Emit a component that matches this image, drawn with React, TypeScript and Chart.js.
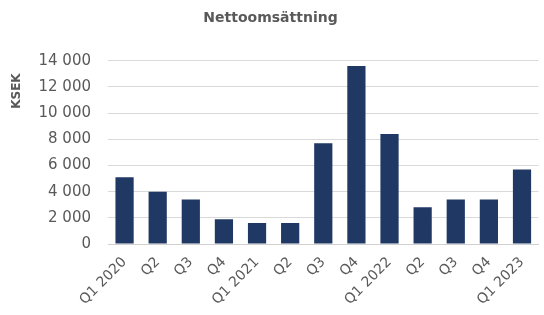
import React, { useEffect, useRef } from "react";
import { Chart, registerables } from "chart.js";

Chart.register(...registerables);

const categories = ["Q1 2020", "Q2", "Q3", "Q4", "Q1 2021", "Q2", "Q3", "Q4", "Q1 2022", "Q2", "Q3", "Q4", "Q1 2023"];
const nettoomsattning = [5100, 4000, 3400, 1900, 1600, 1600, 7700, 13600, 8400, 2800, 3400, 3400, 5700];
const yTicks = [0, 2000, 4000, 6000, 8000, 10000, 12000, 14000];

const FONT = "'DejaVu Sans', sans-serif";
const GRAY = "#595959";

function fmt(v: number): string {
  const s = Math.round(v).toString();
  return s.replace(/\B(?=(\d{3})+(?!\d))/g, " ");
}

export default function App() {
  const ref = useRef<HTMLCanvasElement>(null);
  useEffect(() => {
    if (!ref.current) return;
    const chart = new Chart(ref.current, {
      type: "bar",
      data: {
        labels: categories,
        datasets: [
          {
            label: "Nettoomsättning",
            data: nettoomsattning,
            backgroundColor: "#1f3864",
            categoryPercentage: 1,
            barPercentage: 0.55,
          },
        ],
      },
      options: {
        responsive: false,
        animation: false,
        layout: { padding: { left: 0, right: 3, top: 0, bottom: 0 } },
        plugins: {
          legend: { display: false },
          tooltip: { enabled: false },
          title: {
            display: true,
            text: "Nettoomsättning",
            color: GRAY,
            font: { family: FONT, size: 14, weight: "bold" },
            padding: { top: 10, bottom: 34 },
          },
        },
        scales: {
          x: {
            grid: { display: false, drawTicks: false },
            border: { display: true, color: "#d0d0d0", width: 1 },
            ticks: {
              color: GRAY,
              font: { family: FONT, size: 14 },
              maxRotation: 45,
              minRotation: 45,
              autoSkip: false,
              padding: 10,
            },
            afterFit: (scale: any) => {
              scale.height = 71;
            },
          },
          y: {
            min: 0,
            max: 14000,
            afterBuildTicks: (scale: any) => {
              scale.ticks = yTicks.map((v) => ({ value: v }));
            },
            afterFit: (scale: any) => {
              scale.width = 108;
            },
            grid: { color: "#d9d9d9", drawTicks: false },
            border: { display: false },
            ticks: {
              color: GRAY,
              font: { family: FONT, size: 15 },
              padding: 17,
              callback: (v: any) => fmt(Number(v)),
            },
            title: {
              display: true,
              text: "KSEK   ",
              align: "end",
              color: GRAY,
              font: { family: FONT, size: 12, weight: "bold" },
              padding: { top: 10, bottom: 0 },
            },
          },
        },
      },
    });
    return () => chart.destroy();
  }, []);
  return (
    <div style={{ position: "absolute", left: 0, top: 0, width: 544, height: 315, background: "#fff" }}>
      <canvas ref={ref} width={544} height={315} />
    </div>
  );
}
